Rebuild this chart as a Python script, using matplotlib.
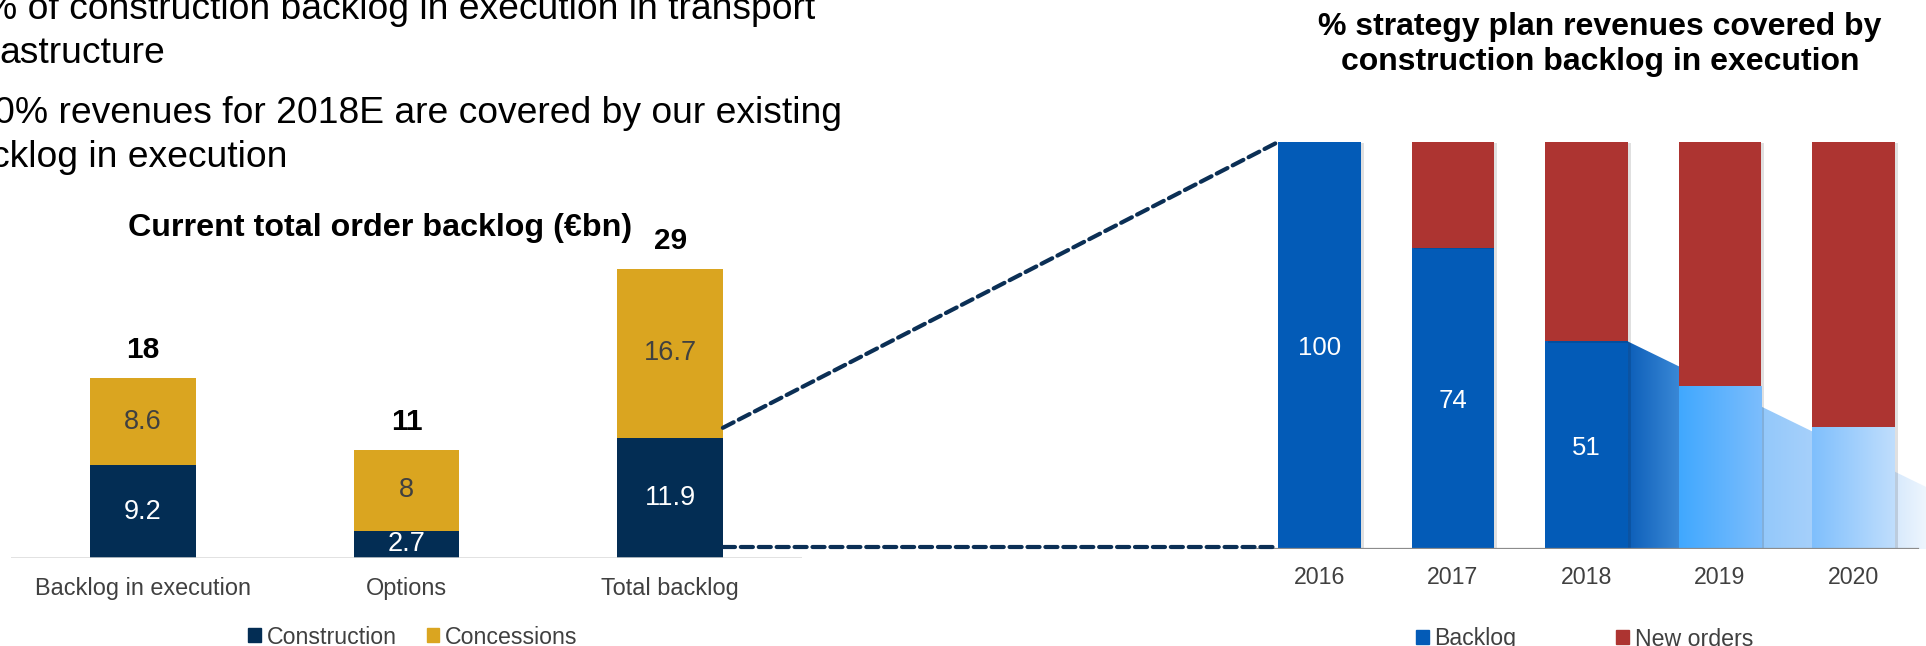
import numpy as np
import matplotlib
matplotlib.use('Agg')
import matplotlib.pyplot as plt
from matplotlib.patches import Patch, Polygon, ConnectionPatch
from matplotlib.colors import LinearSegmentedColormap
import matplotlib.transforms as mtransforms
import matplotlib.patheffects as pe

plt.rcParams['font.family'] = ['Liberation Sans', 'DejaVu Sans']

# ---------------- data ----------------
bullet_lines = [
    '% of construction backlog in execution in transport',
    'astructure',
    '0% revenues for 2018E are covered by our existing',
    'cklog in execution',
]

left_title = 'Current total order backlog (€bn)'
categories = ['Backlog in execution', 'Options', 'Total backlog']
construction = [9.2, 2.7, 11.9]
concessions = [8.6, 8, 16.7]
totals = ['18', '11', '29']
construction_labels = ['9.2', '2.7', '11.9']
concessions_labels = ['8.6', '8', '16.7']
left_legend = ['Construction', 'Concessions']

right_title = ['% strategy plan revenues covered by', 'construction backlog in execution']
years = ['2016', '2017', '2018', '2019', '2020']
backlog = [100, 74, 51, 40, 30]
new_orders = [0, 26, 49, 60, 70]
backlog_labels = ['100', '74', '51', '', '']
right_legend = ['Backlog', 'New orders']

# ---------------- style ----------------
NAVY = '#032d54'
GOLD = '#daa520'
BLUE = '#035bb7'
RED = '#ad3431'
DASH = '#0b2f55'
GREY_TXT = '#404040'

W, H = 1926, 646
fig = plt.figure(figsize=(W / 100, H / 100), dpi=100)


def fx(px):
    return px / W


def fy(py):
    return 1 - py / H


# ---------------- bullet text ----------------
bullet_pos = [(-16, 19), (-1, 63), (-6, 123), (-9, 167)]
for (px, py), line in zip(bullet_pos, bullet_lines):
    fig.text(fx(px), fy(py), line, ha='left', va='baseline', fontsize=26.8, color='black')

# ---------------- left chart ----------------
ax1 = fig.add_axes([fx(11), fy(558), 791 / W, 353.5 / H])
ax1.set_facecolor('none')
x1 = np.arange(len(categories))
bw1 = 0.4
ax1.bar(x1, construction, width=bw1, color=NAVY, zorder=2)
ax1.bar(x1, concessions, bottom=construction, width=bw1, color=GOLD, zorder=2)
ax1.set_xlim(-0.5, 2.5)
ax1.set_ylim(0, 35)
for s in ax1.spines.values():
    s.set_visible(False)
ax1.set_yticks([])
ax1.set_xticks(x1, categories)
ax1.tick_params(axis='x', length=0, pad=13.5, labelsize=16.9, labelcolor=GREY_TXT)
ax1.axhline(0, color='#d9d9d9', lw=1.8, zorder=3)

for i in range(len(categories)):
    ax1.text(i, construction[i] / 2, construction_labels[i], ha='center', va='center',
             color='white', fontsize=19.5, zorder=4)
    ax1.text(i, construction[i] + concessions[i] / 2, concessions_labels[i], ha='center',
             va='center', color=GREY_TXT, fontsize=19.5, zorder=4)
    ax1.annotate(totals[i], xy=(i, construction[i] + concessions[i]), xytext=(0, 14.4),
                 textcoords='offset points', ha='center', va='baseline',
                 fontsize=21.5, fontweight='bold', color='black')

fig.text(fx(380), fy(236), left_title, ha='center', va='baseline', fontsize=23.2,
         fontweight='bold', color='black')

ax1.legend(handles=[Patch(color=NAVY, label=left_legend[0]),
                    Patch(color=GOLD, label=left_legend[1])],
           loc='center left', bbox_to_anchor=(fx(248), fy(637)),
           bbox_transform=fig.transFigure, ncol=2, frameon=False, fontsize=16.7,
           handlelength=0.55, handleheight=0.55, handletextpad=0.25,
           columnspacing=1.3, borderpad=0, borderaxespad=0, labelcolor=GREY_TXT)

# ---------------- right chart ----------------
ax2 = fig.add_axes([fx(1255), fy(549), 671 / W, 407 / H])
ax2.set_facecolor('none')
x2 = np.arange(len(years))
bw2 = 0.62
xlim2 = (-0.483, 4.544)

# decorative declining ribbon behind the bars
rib_x0 = 2 + bw2 / 2
rib_x1 = xlim2[1]
rib_decline = 16.0
rib_top_end = backlog[2] - rib_decline * (rib_x1 - rib_x0)
rib = Polygon([(rib_x0, backlog[2]), (rib_x1, rib_top_end), (rib_x1, 0), (rib_x0, 0)],
              closed=True, facecolor='none', edgecolor='none', transform=ax2.transData)
ax2.add_patch(rib)
span = rib_x1 - rib_x0
rib_cmap = LinearSegmentedColormap.from_list('rib', [
    (0.0, '#0d5fb9'),
    ((2.69 - rib_x0) / span, '#3a88d6'),
    ((3.31 - rib_x0) / span, '#93c8fb'),
    ((3.69 - rib_x0) / span, '#a6d0fa'),
    ((4.31 - rib_x0) / span, '#d7e9fc'),
    (1.0, '#eef6fe')])
grad = np.linspace(0, 1, 256).reshape(1, -1)
im = ax2.imshow(grad, extent=[rib_x0, rib_x1, 0, backlog[2]], aspect='auto',
                cmap=rib_cmap, zorder=1, interpolation='bilinear')
im.set_clip_path(rib)

shadow = [pe.SimplePatchShadow(offset=(2, -1), shadow_rgbFace='black', alpha=0.12), pe.Normal()]
bars_b = ax2.bar(x2, backlog, width=bw2, color=BLUE, zorder=2)
bars_n = ax2.bar(x2, new_orders, bottom=backlog, width=bw2, color=RED, zorder=2)
for b in list(bars_b) + list(bars_n):
    b.set_path_effects(shadow)

faded = {3: ('#40a8ff', '#7cbdfc'), 4: ('#7fbffc', '#c0defd')}
for i, (c0, c1) in faded.items():
    cm = LinearSegmentedColormap.from_list(f'g{i}', [c0, c1])
    gi = ax2.imshow(grad, extent=[i - bw2 / 2, i + bw2 / 2, 0, backlog[i]], aspect='auto',
                    cmap=cm, zorder=2.5, interpolation='bilinear')
    gi.set_clip_path(bars_b[i])

ax2.set_xlim(*xlim2)
ax2.set_ylim(0, 100)
for s in ax2.spines.values():
    s.set_visible(False)
ax2.set_yticks([])
ax2.set_xticks(x2, years)
ax2.tick_params(axis='x', length=0, pad=12.5, labelsize=16.7, labelcolor=GREY_TXT)
ax2.axhline(0, xmin=0, xmax=(1918 - 1255) / 671, color='#8c8c8c', lw=1.6, zorder=4)

for i, lab in enumerate(backlog_labels):
    if lab:
        ax2.annotate(lab, xy=(i, backlog[i] / 2), xytext=(0, -2), textcoords='offset points',
                     ha='center', va='center', color='white', fontsize=18.5, zorder=5)

fig.text(fx(1600), fy(35), right_title[0], ha='center', va='baseline', fontsize=23,
         fontweight='bold', color='black')
fig.text(fx(1600), fy(70), right_title[1], ha='center', va='baseline', fontsize=23,
         fontweight='bold', color='black')

ax2.legend(handles=[Patch(color=BLUE, label=right_legend[0]),
                    Patch(color=RED, label=right_legend[1])],
           loc='center left', bbox_to_anchor=(fx(1416), fy(639)),
           bbox_transform=fig.transFigure, ncol=2, frameon=False, fontsize=16.7,
           handlelength=0.55, handleheight=0.55, handletextpad=0.25,
           columnspacing=4.3, borderpad=0, borderaxespad=0, labelcolor=GREY_TXT)

# ---------------- connector dashed lines ----------------
up10 = mtransforms.ScaledTranslation(0, 10 / 100, fig.dpi_scale_trans)
up2 = mtransforms.ScaledTranslation(0, 2 / 100, fig.dpi_scale_trans)
con1 = ConnectionPatch(xyA=(2 + bw1 / 2, construction[2]), coordsA=ax1.transData + up10,
                       xyB=(-bw2 / 2, 100), coordsB=ax2.transData,
                       color=DASH, lw=3, linestyle=(0, (2.9, 1.4)), zorder=6)
blend = mtransforms.blended_transform_factory(ax1.transData, ax2.transData)
con2 = ConnectionPatch(xyA=(2 + bw1 / 2, 0), coordsA=blend + up2,
                       xyB=(-bw2 / 2, 0), coordsB=ax2.transData + up2,
                       color=DASH, lw=3, linestyle=(0, (2.9, 1.4)), zorder=6)
fig.add_artist(con1)
fig.add_artist(con2)

fig.savefig('out.png', dpi=100)
